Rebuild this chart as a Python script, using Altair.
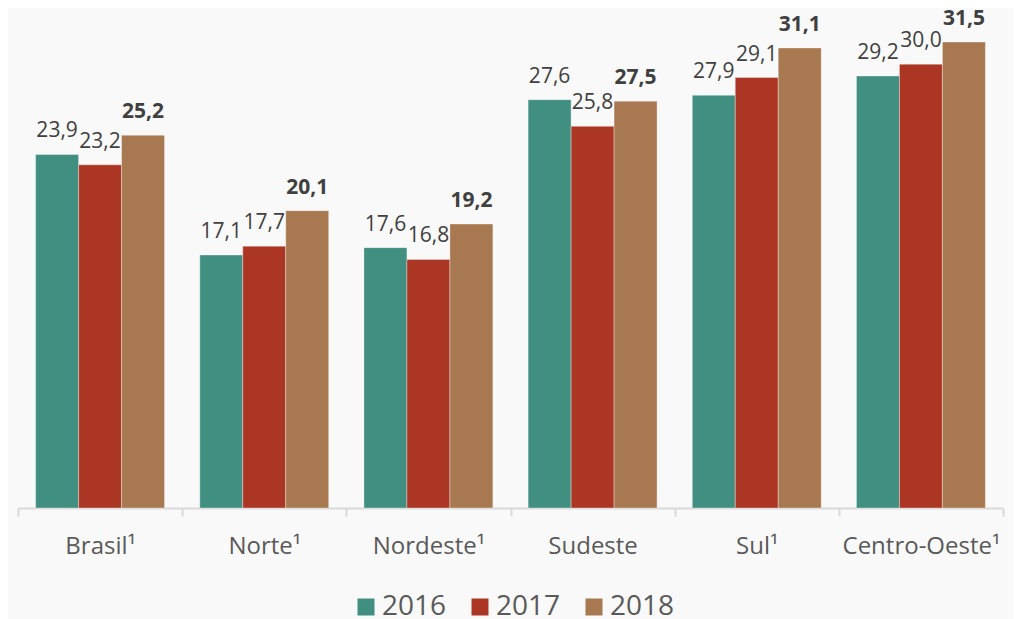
import altair as alt
import pandas as pd

regions = ["Brasil¹", "Norte¹", "Nordeste¹", "Sudeste", "Sul¹", "Centro-Oeste¹"]
years = ["2016", "2017", "2018"]
v2016 = [23.9, 17.1, 17.6, 27.6, 27.9, 29.2]
v2017 = [23.2, 17.7, 16.8, 25.8, 29.1, 30.0]
v2018 = [25.2, 20.1, 19.2, 27.5, 31.1, 31.5]
colors = ["#408f80", "#ac3624", "#a87950"]

rows = []
for yr, vals in zip(years, [v2016, v2017, v2018]):
    for r, v in zip(regions, vals):
        rows.append({"region": r, "year": yr, "value": v,
                     "label": f"{v:.1f}".replace(".", ",")})
df = pd.DataFrame(rows)

FONT = "Open Sans"

x = alt.X("region:N", sort=regions, title=None,
          scale=alt.Scale(paddingInner=0, paddingOuter=0),
          axis=alt.Axis(labelAngle=0, domainColor="#d9d9d9", domainWidth=2,
                        tickColor="#d9d9d9", tickWidth=2, tickSize=8,
                        tickBand="extent", labelFontSize=24, labelFont=FONT,
                        labelColor="#595959", labelPadding=18))
xo = alt.XOffset("year:N", scale=alt.Scale(domain=years, paddingOuter=0.41, paddingInner=0))
y = alt.Y("value:Q", scale=alt.Scale(domain=[0, 33.8], nice=False, zero=True), axis=None)

base = alt.Chart(df)

bars = base.mark_bar(stroke="white", strokeOpacity=0.35, strokeWidth=1).encode(
    x=x, xOffset=xo, y=y,
    color=alt.Color("year:N", scale=alt.Scale(domain=years, range=colors),
                    legend=alt.Legend(orient="none", legendX=334, legendY=585,
                                      direction="horizontal", title=None,
                                      symbolType="square", symbolSize=289,
                                      symbolStrokeWidth=0, symbolOpacity=1,
                                      labelFontSize=28, labelFont=FONT,
                                      labelColor="#595959", labelOffset=2,
                                      columnPadding=19))
)

labels_normal = base.transform_filter(alt.datum.year != "2018").mark_text(
    baseline="alphabetic", dy=-17, fontSize=21, font=FONT, color="#404040"
).encode(x=x, xOffset=xo, y=y, text="label:N")

labels_bold = base.transform_filter(alt.datum.year == "2018").mark_text(
    baseline="alphabetic", dy=-17, fontSize=21, font=FONT, color="#404040",
    fontWeight="bold"
).encode(x=x, xOffset=xo, y=y, text="label:N")

chart = alt.layer(bars, labels_normal, labels_bold).properties(
    width=985, height=500,
    autosize="none",
    padding={"left": 10, "top": 0, "right": 10, "bottom": 113},
    background="#f9f9f9",
).configure_view(stroke=None)

chart.save("out.html", embed_options={"renderer": "svg", "actions": False})
